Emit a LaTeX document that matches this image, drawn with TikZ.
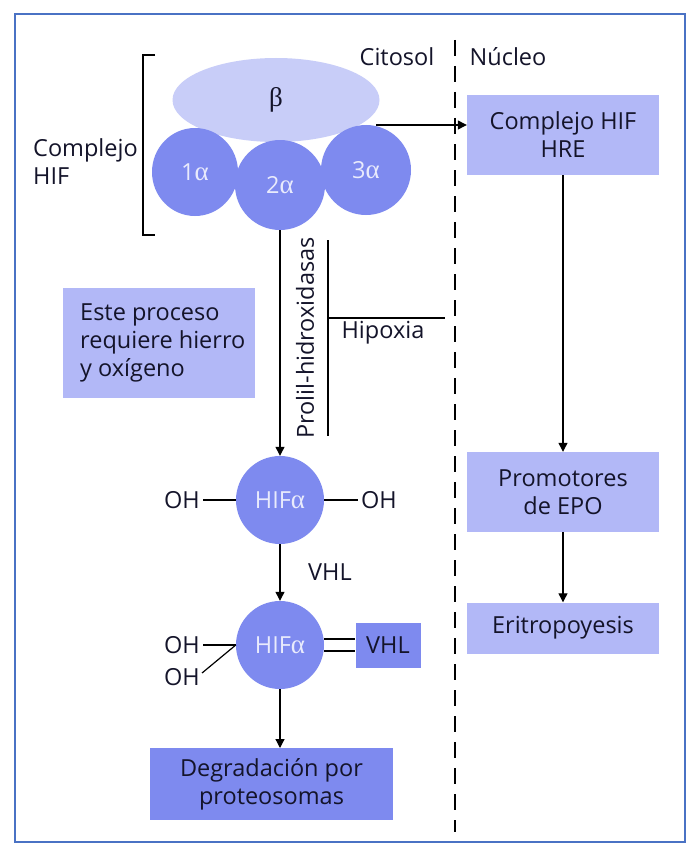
\documentclass[tikz,border=0pt]{standalone}
\usepackage{fontspec}
\setmainfont{Open Sans}
\newfontfamily\grkf{Liberation Serif}
\newcommand{\grk}{\grkf\fontsize{27}{28}\selectfont}
\usetikzlibrary{shapes.geometric,arrows.meta}
\definecolor{frame}{HTML}{4A72C4}
\definecolor{dark}{HTML}{7E8AEF}
\definecolor{light}{HTML}{B2B8F7}
\definecolor{pale}{HTML}{C8CDF8}
\definecolor{ink}{HTML}{14142A}
\definecolor{inwhite}{HTML}{E9EBFC}
\tikzset{
  fnt/.style={font=\fontsize{23.5}{28}\selectfont},
  txt/.style={fnt, text=ink, inner sep=0pt},
  circ/.style={ellipse, fill=dark, draw=none, fnt, text=inwhite},
  box/.style={rectangle, fill=light, draw=none, fnt, text=ink, align=center, inner sep=0pt},
  dbox/.style={box, fill=dark},
  arr/.style={line width=1.2pt, -{Triangle[length=9pt,width=9pt]}},
  ln/.style={line width=1.2pt}
}
\begin{document}
\begin{tikzpicture}[x=1pt,y=-1pt]
\useasboundingbox (0,0) rectangle (700,856);
\fill[white] (0,0) rectangle (700,856);
\draw[frame, line width=2pt] (15,14) rectangle (685,842);

% dashed separator
\coordinate (dtop) at (455,40);
\coordinate (dbot) at (455,832);
\draw[line width=1.2pt, dash pattern=on 16pt off 10pt] (dtop) -- (dbot);
\node[txt] (cit) at (397,57) {Citosol};
\node[txt] (nuc) at (508,57) {Núcleo};

% HIF complex
\node[ellipse, fill=pale, minimum width=207, minimum height=84, inner sep=0pt, text=ink] (beta) at (276,100) {\grk β};
\node[circ, minimum width=86, minimum height=88] (a1) at (195,172) {1{\grk α}};
\node[circ, minimum width=90, minimum height=90] (a3) at (366,170) {3{\grk α}};
\node[circ, minimum width=90, minimum height=90] (a2) at (280,185) {2{\grk α}};

\coordinate (bt) at (155,55);
\coordinate (bb) at (155,235);
\draw[ln] (bt) -- (143,55) -- (143,235) -- (bb);
\node[txt, align=left, anchor=west] (cplx) at (33,162) {Complejo\\HIF};

% right column
\node[box, minimum width=192, minimum height=80] (hifc) at (563,135) {Complejo HIF\\HRE};
\node[box, minimum width=192, minimum height=80] (prom) at (563,492) {Promotores\\de EPO};
\node[box, minimum width=192, minimum height=51] (erit) at (563,628) {Eritropoyesis};

\coordinate (bstart) at (376,125);
\draw[arr] (bstart) -- (bstart -| hifc.west);
\draw[arr] (hifc.south) -- (prom.north);
\draw[arr] (prom.south) -- (erit.north);

% process note
\node[box, minimum width=192, minimum height=110] (note) at (159,343) {};
\node[txt, align=left, anchor=west] (notet) at (80,343) {Este proceso\\requiere hierro\\y oxígeno};

% HIFa 1
\node[circ, minimum width=88, minimum height=88] (h1) at (280,500) {HIF{\grk α}};
\draw[arr] (a2.south) -- (h1.north);

\coordinate (pt) at (328,240);
\coordinate (pb) at (328,436);
\coordinate (pm) at (328,318);
\coordinate (pr) at (445,318);
\draw[ln] (pt) -- (pb);
\draw[ln] (pm) -- (pr);
\node[txt, rotate=90] (prolil) at (305,338) {Prolil-hidroxidasas};
\node[txt] (hipo) at (383,333) {Hipoxia};

\node[txt] (oh1) at (182,500) {OH};
\node[txt] (oh2) at (379,500) {OH};
\draw[ln] ([xshift=3pt]oh1.east) -- (h1.west);
\draw[ln] (h1.east) -- ([xshift=-3pt]oh2.west);

% HIFa 2
\node[circ, minimum width=88, minimum height=88] (h2) at (280,645) {HIF{\grk α}};
\draw[arr] (h1.south) -- (h2.north);
\node[txt] (vhll) at (330,572) {VHL};

\node[txt] (oh3) at (182,645) {OH};
\node[txt] (oh4) at (182,677) {OH};
\draw[ln] ([xshift=3pt]oh3.east) -- (h2.west);
\draw[ln] ([xshift=2pt,yshift=4pt]oh4.east) -- (h2.west);

\node[dbox, minimum width=65, minimum height=45] (vhl) at (388,645) {VHL};
\draw[ln] ([yshift=6pt]h2.east) -- ([yshift=6pt]vhl.west);
\draw[ln] ([yshift=-6pt]h2.east) -- ([yshift=-6pt]vhl.west);

\node[dbox, minimum width=243, minimum height=72] (deg) at (271.5,784) {Degradación por\\proteosomas};
\coordinate (dtarget) at (280,748);
\draw[arr] (h2.south) -- (dtarget);
\end{tikzpicture}
\end{document}
